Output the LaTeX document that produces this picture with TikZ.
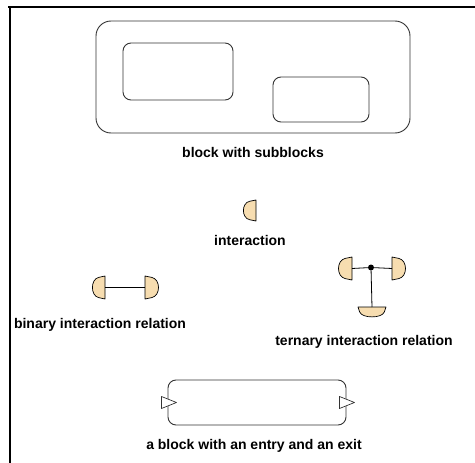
\documentclass[tikz,border=0pt]{standalone}
\usepackage{fontspec}
\setsansfont{Liberation Sans}
\usepackage{tikz}
\usetikzlibrary{positioning}
\usepackage{xcolor}
\definecolor{portfill}{HTML}{F7DDB0}

\tikzset{
  pics/port/.style args={#1/#2}{code={
    \draw[fill=portfill, line width=0.7pt, line join=round]
      (0,#1/2) -- (-0.45*#2,0.44*#1)
      .. controls (-1.05*#2,0.36*#1) and (-1.05*#2,-0.36*#1) .. (-0.45*#2,-0.44*#1)
      -- (0,-#1/2) -- cycle;
    \coordinate (-c) at (0,0);
  }}
}

\begin{document}
\begin{tikzpicture}[x=1pt, y=1pt,
    block/.style={draw=black!80, line width=0.9pt, rounded corners=8pt, inner sep=0pt},
    lbl/.style={font=\sffamily\bfseries\fontsize{14}{16}\selectfont, anchor=base},
    tri/.style={draw=black!80, line width=0.7pt, fill=white, line join=round}]
  \useasboundingbox (0,0) rectangle (475,-463);
  \draw[line width=2pt] (8,-7) -- (475,-7);
  \draw[line width=2pt] (10,-6) -- (10,-463);

  \node[block, rounded corners=15pt, minimum width=314, minimum height=112] (sys) at (253,-77) {};
  \node[block, minimum width=110, minimum height=57] (sub1) at (178,-71.5) {};
  \node[block, minimum width=96, minimum height=45] (sub2) at (321,-99.5) {};
  \node[lbl] (sysl) at (253,-157) {block with subblocks};

  \pic (ia) at (256,-210.5) {port=21/14};
  \node[lbl] (ial) at (250,-245) {interaction};

  \pic (bl) at (105,-287.5) {port=23/14};
  \pic[rotate=180] (br) at (145,-287.5) {port=23/15};
  \draw[line width=0.8pt] (bl-c) -- (br-c);
  \node[lbl] (binl) at (100,-328) {binary interaction relation};

  \node[circle, fill=black, inner sep=0pt, minimum size=6pt] (dot) at (371,-267.5) {};
  \pic (tl) at (352,-268.5) {port=23/15};
  \pic[rotate=180] (tr) at (392,-268.5) {port=23/15};
  \pic[rotate=90] (tb) at (372,-307) {port=28/11};
  \draw[line width=0.8pt] (tl-c) -- (dot) -- (tr-c);
  \draw[line width=0.8pt] (dot) -- (tb-c);
  \node[lbl] (terl) at (364,-345) {ternary interaction relation};

  \node[block, minimum width=178, minimum height=45] (io) at (257,-402.5) {};
  \draw[tri] ([shift={(-6,6)}]io.west) -- ([shift={(9,0)}]io.west) -- ([shift={(-6,-6)}]io.west) -- cycle;
  \draw[tri] ([shift={(-7,6)}]io.east) -- ([shift={(8,0)}]io.east) -- ([shift={(-7,-6)}]io.east) -- cycle;
  \node[lbl] (iol) at (254,-449) {a block with an entry and an exit};
\end{tikzpicture}
\end{document}
